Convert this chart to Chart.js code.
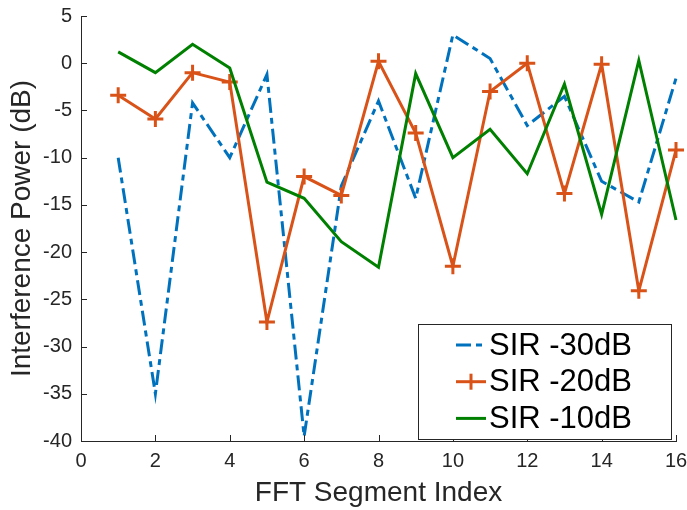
<!DOCTYPE html>
<html>
<head>
<meta charset="utf-8">
<script src="https://cdn.jsdelivr.net/npm/chart.js@4"></script>
<style>
  body { margin: 0; background: #fff; }
  #wrap { width: 687px; height: 510px; }
</style>
</head>
<body>
<div id="wrap"><canvas id="chart" width="687" height="510"></canvas></div>
<script>
// segment index and interference power (dB) per SIR level
const segments = [1, 2, 3, 4, 5, 6, 7, 8, 9, 10, 11, 12, 13, 14, 15, 16];
const sir30 = [-10, -35, -4.2, -10, -1.2, -39.5, -13, -4, -14.3, 3, 0.5, -6.6, -3.5, -12.5, -14.7, -1.6];
const sir20 = [-3.4, -5.9, -1, -2, -27.4, -12, -14, 0.2, -7.4, -21.5, -3, 0, -13.8, -0.1, -24.1, -9.2];
const sir10 = [1.2, -1, 2, -0.5, -12.6, -14.3, -18.9, -21.6, -1.1, -10, -7, -11.7, -2.2, -16, 0.3, -16.6];
const seriesNames = ['SIR -30dB', 'SIR -20dB', 'SIR -10dB'];
const xTicks = [0, 2, 4, 6, 8, 10, 12, 14, 16];
const yTicks = [5, 0, -5, -10, -15, -20, -25, -30, -35, -40];

const BLUE = '#0072BD', ORANGE = '#D95319', GREEN = '#008000';
const AX = '#262626';
const FONT = '"Liberation Sans", Arial, sans-serif';
const dashDot = [15, 5, 6, 5];

const toPoints = vals => segments.map((s, i) => ({ x: s, y: vals[i] }));

// MATLAB style ticks pointing into the plot
const innerTicks = {
  id: 'innerTicks',
  afterDraw(chart) {
    const ctx = chart.ctx, area = chart.chartArea;
    const xs = chart.scales.x, ys = chart.scales.y;
    ctx.save();
    ctx.strokeStyle = AX;
    ctx.lineWidth = 1;
    ctx.beginPath();
    xTicks.forEach(v => {
      const px = Math.round(xs.getPixelForValue(v)) + 0.5;
      ctx.moveTo(px, area.bottom);
      ctx.lineTo(px, area.bottom - 6);
    });
    yTicks.forEach(v => {
      const py = Math.round(ys.getPixelForValue(v)) + 0.5;
      ctx.moveTo(area.left, py);
      ctx.lineTo(area.left + 6, py);
    });
    ctx.stroke();
    ctx.restore();
  }
};

// legend box inside the plot, lower right
const boxLegend = {
  id: 'boxLegend',
  afterDraw(chart) {
    const ctx = chart.ctx, area = chart.chartArea;
    const w = 253, h = 115;
    const x0 = area.right - 5 - w, y0 = area.bottom - 2 - h;
    ctx.save();
    ctx.fillStyle = '#fff';
    ctx.fillRect(x0, y0, w, h);
    ctx.strokeStyle = AX;
    ctx.lineWidth = 1;
    ctx.strokeRect(Math.round(x0) + 0.5, Math.round(y0) + 0.5, w, h);
    ctx.font = '31px ' + FONT;
    ctx.textBaseline = 'middle';
    chart.data.datasets.forEach((ds, i) => {
      const cy = y0 + 21 + i * 36.7;
      const lx = x0 + 38;
      ctx.strokeStyle = ds.borderColor;
      ctx.lineWidth = 3;
      ctx.setLineDash(ds.borderDash || []);
      ctx.beginPath();
      ctx.moveTo(lx, cy);
      ctx.lineTo(lx + 30, cy);
      ctx.stroke();
      ctx.setLineDash([]);
      if (ds.pointStyle === 'cross') {
        ctx.beginPath();
        ctx.moveTo(lx + 15, cy - 8);
        ctx.lineTo(lx + 15, cy + 8);
        ctx.stroke();
      }
      ctx.fillStyle = '#000';
      ctx.fillText(seriesNames[i], lx + 33, cy + 1);
    });
    ctx.restore();
  }
};

const ctx = document.getElementById('chart').getContext('2d');
new Chart(ctx, {
  type: 'line',
  data: {
    datasets: [
      {
        label: seriesNames[0], data: toPoints(sir30), borderColor: BLUE, backgroundColor: BLUE,
        borderWidth: 3, borderDash: dashDot, pointRadius: 0, order: 3, tension: 0
      },
      {
        label: seriesNames[1], data: toPoints(sir20), borderColor: ORANGE, backgroundColor: ORANGE,
        borderWidth: 3, pointStyle: 'cross', pointRadius: 8, pointBorderWidth: 3, order: 2, tension: 0
      },
      {
        label: seriesNames[2], data: toPoints(sir10), borderColor: GREEN, backgroundColor: GREEN,
        borderWidth: 3, pointRadius: 0, order: 1, tension: 0
      }
    ]
  },
  options: {
    responsive: false,
    animation: false,
    clip: false,
    layout: { padding: { top: 16, right: 11, left: 0, bottom: 0 } },
    plugins: { legend: { display: false }, tooltip: { enabled: false } },
    scales: {
      x: {
        type: 'linear', min: 0, max: 16,
        afterBuildTicks: s => { s.ticks = xTicks.map(v => ({ value: v })); },
        afterFit: s => { s.height = 69; s.paddingLeft = 0; s.paddingRight = 0; },
        grid: { drawOnChartArea: false, drawTicks: false },
        border: { color: AX, width: 1 },
        ticks: { color: AX, padding: 8, font: { size: 20, family: FONT } },
        title: {
          display: true, text: 'FFT Segment Index', color: AX, padding: { top: 0, bottom: 0 },
          font: { size: 28, family: FONT }
        }
      },
      y: {
        min: -40, max: 5,
        afterBuildTicks: s => { s.ticks = yTicks.map(v => ({ value: v })); },
        afterFit: s => { s.width = 81; s.paddingTop = 0; s.paddingBottom = 0; },
        grid: { drawOnChartArea: false, drawTicks: false },
        border: { color: AX, width: 1 },
        ticks: { color: AX, padding: 9, font: { size: 20, family: FONT } },
        title: {
          display: true, text: 'Interference Power (dB)', color: AX, padding: { top: 5, bottom: 0 },
          font: { size: 28, family: FONT }
        }
      }
    }
  },
  plugins: [innerTicks, boxLegend]
});
</script>
</body>
</html>
